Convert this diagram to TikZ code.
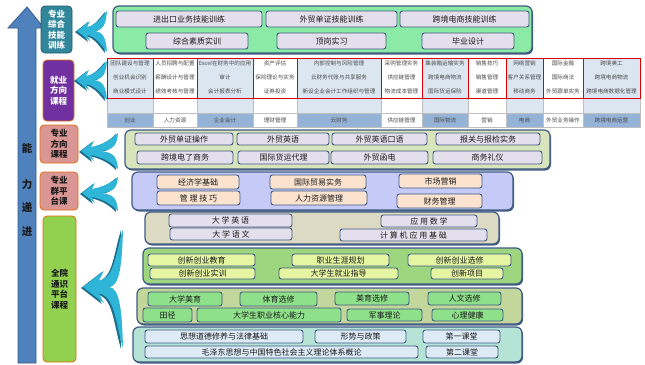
\documentclass[tikz,border=0pt]{standalone}
\usepackage{fontspec}
\setmainfont{Noto Sans CJK SC}
\usetikzlibrary{shadows}
\definecolor{arrowblue}{HTML}{4F81BD}
\definecolor{arrowdark}{HTML}{385D8A}
\definecolor{tealbox}{HTML}{31869B}
\definecolor{purplebox}{HTML}{7030A0}
\definecolor{pinkbox}{HTML}{DA9694}
\definecolor{greenbox}{HTML}{92D050}
\definecolor{orangeb}{HTML}{E46C0A}
\definecolor{bordb}{HTML}{3F5A83}
\definecolor{lav}{HTML}{E4DFEC}
\definecolor{row1fill}{HTML}{8BEBA6}
\definecolor{row3fill}{HTML}{D8E4BC}
\definecolor{row4fill}{HTML}{C5CAF7}
\definecolor{peach}{HTML}{FBE3D0}
\definecolor{bandA}{HTML}{DDDAC4}
\definecolor{bandB}{HTML}{9ED67F}
\definecolor{innerB}{HTML}{E5F5A2}
\definecolor{bandC}{HTML}{C3D69B}
\definecolor{innerC}{HTML}{8FE08A}
\definecolor{bandD}{HTML}{B5E3D5}
\definecolor{innerD}{HTML}{DDEBF7}
\definecolor{tlb}{HTML}{DCE6F1}
\definecolor{tblue}{HTML}{95B3D7}
\definecolor{gridc}{HTML}{BFBFBF}
\definecolor{cyanarr}{HTML}{2FB5D8}
\definecolor{cyandark}{HTML}{1B6F8C}
\definecolor{txt}{HTML}{1A1A1A}
\definecolor{tabtxt}{HTML}{4A4A4A}
\tikzset{
  lbl/.style={rounded corners=4pt, draw=orangeb, line width=0.8pt, align=center,
    font=\fontsize{8.5}{10.5}\selectfont\bfseries},
  bigbox/.style={rounded corners=6pt, draw=bordb, line width=1.2pt,
    drop shadow={shadow xshift=1pt, shadow yshift=-1.5pt, fill=bordb, opacity=1}},
  ib/.style={rounded corners=2.5pt, draw=bordb, line width=0.9pt, text=txt,
    font=\fontsize{8}{9}\selectfont},
  tt/.style={text=tabtxt, font=\fontsize{5.6}{6}\selectfont, inner sep=0pt},
  big/.style={text=txt, font=\fontsize{10.5}{12}\selectfont\bfseries, inner sep=0pt}
}
\newcommand\ibox[7]{%
  \pgfmathsetmacro\cx{(#2+#4)/2}\pgfmathsetmacro\cy{(#3+#5)/2}%
  \pgfmathsetmacro\bw{#4-#2}\pgfmathsetmacro\bh{#5-#3}%
  \node[#6, minimum width=\bw pt, minimum height=\bh pt, inner sep=0pt, outer sep=0pt] (#1) at (\cx,\cy) {#7};}
\newcommand\carrow[7]{% name, tipx, cy, endx, topy, boty, hh
  \coordinate (#1) at (#2,#3);
  \foreach \dx/\dy/\col in {-2/1/cyandark, 0/0/cyanarr}{
  \fill[\col, shift={(\dx,\dy)}] (#2,#3) -- ({#2+1.3*#7},{#3-#7}) -- ({#2+1.0*#7},{#3-0.4*#7})
    .. controls ({#2+2.0*#7},{#3-0.6*#7}) and ({#4-8},{#5+0.45*(#3-#5)}) .. (#4,#5)
    .. controls ({#4-1},{#5+0.6*(#3-#5)}) and ({#4-3},{#3}) .. ({#2+1.6*#7},#3)
    .. controls ({#4-3},{#3}) and ({#4-1},{#6-0.6*(#6-#3)}) .. (#4,#6)
    .. controls ({#4-8},{#6-0.45*(#6-#3)}) and ({#2+2.0*#7},{#3+0.6*#7}) .. ({#2+1.0*#7},{#3+0.4*#7})
    -- ({#2+1.3*#7},{#3+#7}) -- cycle;}}
\begin{document}
\begin{tikzpicture}[x=1pt,y=-1pt]
\useasboundingbox (0,0) rectangle (645,364);
% big ability arrow
\fill[arrowblue, draw=arrowdark, line width=0.8pt] (18,363) -- (18,28) -- (8,28) -- (27,7) -- (44,28) -- (36,28) -- (36,363) -- cycle;
\node[big] (n1) at (27,148) {能};
\node[big] (n2) at (27,185) {力};
\node[big] (n3) at (27,207) {递};
\node[big] (n4) at (27,232) {进};
% left labels
\ibox{L1}{41}{6}{72}{53}{lbl, fill=tealbox, draw=tealbox!70!black, text=white}{专业\\综合\\技能\\训练}
\ibox{L2}{43}{60}{74}{121}{lbl, fill=purplebox, text=white}{就业\\方向\\课程}
\ibox{L3}{40}{125}{78}{163}{lbl, fill=pinkbox, text=txt}{专业\\方向\\课程}
\ibox{L4}{40}{172}{78}{210}{lbl, fill=pinkbox, text=txt}{专业\\群平\\台课}
\ibox{L5}{43}{216}{76}{362}{lbl, fill=greenbox, text=txt}{全院\\通识\\平台\\课程}
% curved arrows
\carrow{A1}{77}{31}{107}{11}{52}{10}
\carrow{A2}{76}{80}{107}{61}{100}{10}
\carrow{A3}{81}{151}{118}{133}{169}{10}
\carrow{A4}{82}{193}{118}{177}{211}{10}
\carrow{A5}{83}{287}{123}{229}{348}{16}
% row 1
\ibox{B1}{113}{6}{532}{53}{bigbox, fill=row1fill}{}
\ibox{r1a}{116}{11}{262}{27}{ib, fill=lav}{进出口业务技能训练}
\ibox{r1b}{266}{11}{397}{27}{ib, fill=lav}{外贸单证技能训练}
\ibox{r1c}{400}{11}{529}{27}{ib, fill=lav}{跨境电商技能训练}
\ibox{r1d}{146}{33}{248}{49}{ib, fill=lav}{综合素质实训}
\ibox{r1e}{277}{33}{386}{49}{ib, fill=lav}{顶岗实习}
\ibox{r1f}{422}{33}{514}{49}{ib, fill=lav}{毕业设计}
% table
\foreach \xa/\xb/\odd/\ra/\rb/\rc/\lab [count=\i] in {
107/153/1/团队建设与管理/创业机会识别/商业模式设计/创业,
153/197/0/人员招聘与配置/薪酬设计与管理/绩效考核与管理/人力资源,
197/253/1/Excel在财务中的应用/审计/会计报表分析/企业会计,
253/297/0/资产评估/保险理论与实务/证券投资/理财管理,
297/381/1/内部控制与风险管理/云财务代账与共享服务/新设企业会计工作组织与管理/云财务,
381/422/0/采购管理实务/供应链管理/物流成本管理/供应链管理,
422/468/1/集装箱运输实务/跨境电商物流/国际货运保险/国际物流,
468/506/0/销售技巧/销售管理/渠道管理/营销,
506/543/1/网络营销/客户关系管理/移动商务/电商,
543/583/0/国际金融/国际商法/外贸跟单实务/外贸业务操作,
583/640/1/跨境美工/跨境电商物流/跨境电商数据化管理/跨境电商运营}
{
  \ifnum\odd=1 \def\topc{tlb}\def\botc{tblue}\else \def\topc{white}\def\botc{white}\fi
  \fill[\topc] (\xa,58) rectangle (\xb,113);
  \fill[\botc] (\xa,113) rectangle (\xb,127);
  \draw[gridc, line width=0.5pt] (\xa,98) rectangle (\xb,113) (\xa,113) rectangle (\xb,127);
  \node[tt] (c\i a) at ({(\xa+\xb)/2},63) {\ra};
  \node[tt] (c\i b) at ({(\xa+\xb)/2},77) {\rb};
  \node[tt] (c\i c) at ({(\xa+\xb)/2},91) {\rc};
  \node[tt] (c\i d) at ({(\xa+\xb)/2},120) {\lab};
}
\foreach \xa/\xb in {107/153,153/197,197/253,253/297,297/381,381/422,422/468,468/506,506/543,543/583,583/640}
  \draw[red!85!black, line width=0.7pt] (\xa,58) rectangle (\xb,98);
% row 3
\ibox{B3}{125}{130}{550}{169}{bigbox, fill=row3fill}{}
\ibox{r3a}{135}{133}{233}{145}{ib, fill=lav}{外贸单证操作}
\ibox{r3b}{237}{133}{329}{145}{ib, fill=lav}{外贸英语}
\ibox{r3c}{332}{133}{427}{145}{ib, fill=lav}{外贸英语口语}
\ibox{r3d}{436}{133}{540}{145}{ib, fill=lav}{报关与报检实务}
\ibox{r3e}{137}{151}{233}{164}{ib, fill=lav}{跨境电了商务}
\ibox{r3f}{238}{151}{329}{164}{ib, fill=lav}{国际货运代理}
\ibox{r3g}{331}{151}{428}{164}{ib, fill=lav}{外贸函电}
\ibox{r3h}{433}{151}{542}{164}{ib, fill=lav}{商务礼仪}
% row 4
\ibox{B4}{132}{172}{513}{210}{bigbox, fill=row4fill}{}
\ibox{r4a}{157}{175}{239}{189}{ib, fill=peach}{经济学基础}
\ibox{r4b}{270}{175}{366}{189}{ib, fill=peach}{国际贸易实务}
\ibox{r4c}{399}{174}{482}{188}{ib, fill=peach}{市场营销}
\ibox{r4d}{157}{191}{240}{205}{ib, fill=peach}{管 理 技 巧}
\ibox{r4e}{271}{191}{367}{205}{ib, fill=peach}{人力资源管理}
\ibox{r4f}{397}{194}{482}{208}{ib, fill=peach}{财务管理}
% band A
\ibox{BA}{145}{212}{499}{244}{bigbox, fill=bandA}{}
\ibox{ra1}{169}{214}{292}{227}{ib, fill=lav}{大 学 英 语}
\ibox{ra2}{170}{228}{292}{240}{ib, fill=lav}{大 学 语 文}
\ibox{ra3}{381}{215}{477}{227}{ib, fill=lav}{应 用 数 学}
\ibox{ra4}{340}{229}{487}{241}{ib, fill=lav}{计 算 机 应 用 基 础}
% band B
\ibox{BB}{143}{248}{522}{284}{bigbox, fill=bandB}{}
\ibox{rb1}{148}{254}{255}{266}{ib, fill=innerB}{创新创业教育}
\ibox{rb2}{292}{254}{389}{266}{ib, fill=innerB}{职业生涯规划}
\ibox{rb3}{408}{254}{511}{266}{ib, fill=innerB}{创新创业选修}
\ibox{rb4}{150}{268}{255}{279}{ib, fill=innerB}{创新创业实训}
\ibox{rb5}{279}{268}{398}{279}{ib, fill=innerB}{大学生就业指导}
\ibox{rb6}{431}{268}{503}{279}{ib, fill=innerB}{创新项目}
% band C
\ibox{BC}{137}{288}{522}{324}{bigbox, fill=bandC}{}
\ibox{rc1}{148}{292}{222}{306}{ib, fill=innerC}{大学美育}
\ibox{rc2}{240}{292}{317}{306}{ib, fill=innerC}{体育选修}
\ibox{rc3}{335}{292}{409}{305}{ib, fill=innerC}{美育选修}
\ibox{rc4}{428}{292}{501}{305}{ib, fill=innerC}{人文选修}
\ibox{rc5}{143}{308}{192}{322}{ib, fill=innerC}{田径}
\ibox{rc6}{197}{308}{341}{322}{ib, fill=innerC}{大学生职业核心能力}
\ibox{rc7}{347}{309}{422}{321}{ib, fill=innerC}{军事理论}
\ibox{rc8}{432}{309}{503}{321}{ib, fill=innerC}{心理健康}
% band D
\ibox{BD}{133}{327}{522}{362}{bigbox, fill=bandD}{}
\ibox{rd1}{145}{330}{303}{343}{ib, fill=innerD}{思想道德修养与法律基础}
\ibox{rd2}{315}{330}{406}{343}{ib, fill=innerD}{形势与政策}
\ibox{rd3}{423}{330}{500}{343}{ib, fill=innerD}{第一课堂}
\ibox{rd4}{145}{346}{418}{358}{ib, fill=innerD}{毛泽东思想与中国特色社会主义理论体系概论}
\ibox{rd5}{426}{346}{498}{358}{ib, fill=innerD}{第二课堂}
\end{tikzpicture}
\end{document}
